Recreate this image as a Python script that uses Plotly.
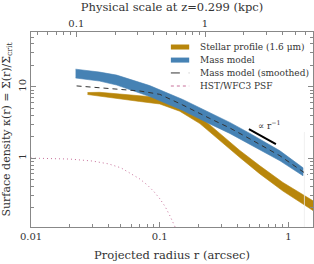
import math
import plotly.graph_objects as go

# ---------------- data ----------------
# Mass model band (r in arcsec, upper/lower kappa)
mass_r = [0.0222, 0.0341, 0.0463, 0.0836, 0.151, 0.245, 0.350, 0.502, 0.859, 1.297]
mass_hi = [17.7, 16.1, 14.6, 10.4, 6.64, 4.30, 3.17, 2.22, 1.265, 0.732]
mass_lo = [13.3, 12.05, 10.6, 7.31, 4.66, 3.02, 2.22, 1.56, 0.917, 0.565]

# Stellar profile band
star_r = [0.0275, 0.0341, 0.0488, 0.0699, 0.100, 0.143, 0.205, 0.293, 0.419, 0.600, 0.906, 1.551]
star_hi = [8.32, 8.38, 7.93, 7.55, 7.08, 5.60, 3.85, 2.22, 1.28, 0.78, 0.455, 0.252]
star_lo = [7.80, 7.27, 6.75, 6.23, 5.75, 4.55, 3.05, 1.78, 1.02, 0.60, 0.345, 0.184]

# Smoothed mass model
smooth_r = [0.0226, 0.0341, 0.0488, 0.0699, 0.100, 0.151, 0.245, 0.350, 0.502, 0.859, 1.297, 1.418]
smooth_k = [10.3, 9.78, 9.31, 8.75, 7.85, 5.56, 3.60, 2.65, 1.86, 1.077, 0.643, 0.584]

# HST/WFC3 PSF
psf_r = [0.010, 0.015, 0.020, 0.030, 0.040, 0.050, 0.060, 0.070, 0.080, 0.090, 0.100, 0.110, 0.120, 0.130, 0.136]
psf_k = [1.00, 0.99, 0.97, 0.91, 0.83, 0.73, 0.61, 0.51, 0.42, 0.34, 0.27, 0.21, 0.155, 0.113, 0.095]

# r^-1 guide
guide_r = [0.493, 0.799]
guide_k = [2.545, 1.570]

# faint vertical marker
mark_r = [1.33, 1.33]
mark_k = [2.32, 0.05]

kpc_per_arcsec = 4.446

x_ticks = [0.01, 0.1, 1]
x_ticktext = ["0.01", "0.1", "1"]
x_minor = [0.02, 0.03, 0.04, 0.05, 0.06, 0.07, 0.08, 0.09, 0.2, 0.3, 0.4, 0.5, 0.6, 0.7, 0.8, 0.9]
y_ticks = [1, 10]
y_ticktext = ["1", "10"]
y_minor = [0.2, 0.3, 0.4, 0.5, 0.6, 0.7, 0.8, 0.9, 2, 3, 4, 5, 6, 7, 8, 9, 20, 30, 40, 50]
top_ticks = [0.1, 1]
top_ticktext = ["0.1", "1"]
top_minor = [0.05, 0.06, 0.07, 0.08, 0.09, 0.2, 0.3, 0.4, 0.5, 0.6, 0.7, 0.8, 0.9, 2, 3, 4, 5, 6]

x_range = [0.01, 1.551]
y_range = [0.108, 58.8]

legend_labels = ["Stellar profile (1.6 μm)", "Mass model", "Mass model (smoothed)", "HST/WFC3 PSF"]

# ---------------- styles ----------------
GOLD = "#B8860B"
BLUE = "#4682B4"
PINK = "#C8709A"
DARK = "#333333"
AX = "#888888"
FONT = "DejaVu Serif"

fig = go.Figure()

fig.add_trace(go.Scatter(
    x=star_r + star_r[::-1], y=star_hi + star_lo[::-1],
    fill="toself", fillcolor=GOLD, mode="lines",
    line=dict(color=GOLD, width=0.6), showlegend=False, hoverinfo="skip"))
fig.add_trace(go.Scatter(
    x=mass_r + mass_r[::-1], y=mass_hi + mass_lo[::-1],
    fill="toself", fillcolor=BLUE, mode="lines",
    line=dict(color=BLUE, width=0.6), showlegend=False, hoverinfo="skip"))
fig.add_trace(go.Scatter(
    x=smooth_r, y=smooth_k, mode="lines",
    line=dict(color=DARK, width=1, dash="5px,4px"), showlegend=False))
fig.add_trace(go.Scatter(
    x=psf_r, y=psf_k, mode="lines",
    line=dict(color=PINK, width=1, dash="1px,3px"), showlegend=False))
fig.add_trace(go.Scatter(
    x=mark_r, y=mark_k, mode="lines",
    line=dict(color="#ececec", width=0.8), showlegend=False))
fig.add_trace(go.Scatter(
    x=guide_r, y=guide_k, mode="lines",
    line=dict(color="black", width=2), showlegend=False))

# invisible trace for top axis
fig.add_trace(go.Scatter(x=[x_range[0] * kpc_per_arcsec], y=[1], xaxis="x2", mode="markers",
                         marker=dict(opacity=0), showlegend=False, hoverinfo="skip"))

# r^-1 label (paper coordinates)
fig.add_annotation(x=0.893, y=0.525, xref="paper", yref="paper",
                   text="∝ r<sup>−1</sup>", showarrow=False,
                   font=dict(family=FONT, size=9, color=DARK))

# manual legend
leg_styles = [
    dict(color=GOLD, width=5),
    dict(color=BLUE, width=5),
    dict(color=DARK, width=1, dash="dash"),
    dict(color=PINK, width=1, dash="dot"),
]
leg_y = [0.923, 0.856, 0.790, 0.723]
for lab, st, yy in zip(legend_labels, leg_styles, leg_y):
    fig.add_shape(type="line", xref="paper", yref="paper", x0=0.496, x1=0.561, y0=yy, y1=yy,
                  line=st)
    fig.add_annotation(x=0.592, y=yy, xref="paper", yref="paper", xanchor="left", yanchor="middle",
                       text=lab, showarrow=False, font=dict(family=FONT, size=9, color=DARK))

axis_common = dict(
    showline=True, linecolor=AX, linewidth=1, ticks="inside", ticklen=5,
    tickcolor=AX, tickwidth=1, showgrid=False, zeroline=False,
    tickfont=dict(family=FONT, size=10, color=DARK),
)

fig.update_layout(
    width=314, height=264,
    margin=dict(l=31, r=1, t=32, b=37),
    paper_bgcolor="white", plot_bgcolor="white",
    font=dict(family=FONT, color=DARK),
    showlegend=False,
    xaxis=dict(
        type="log", range=[math.log10(x_range[0]), math.log10(x_range[1])],
        tickmode="array", tickvals=x_ticks, ticktext=x_ticktext, mirror=True,
        minor=dict(tickmode="array", tickvals=x_minor, ticks="inside", ticklen=3, tickcolor=AX),
        title=dict(text="Projected radius r (arcsec)", font=dict(family=FONT, size=11.5, color=DARK), standoff=9),
        **axis_common),
    xaxis2=dict(
        type="log", overlaying="x", side="top",
        range=[math.log10(x_range[0] * kpc_per_arcsec), math.log10(x_range[1] * kpc_per_arcsec)],
        tickmode="array", tickvals=top_ticks, ticktext=top_ticktext,
        minor=dict(tickmode="array", tickvals=top_minor, ticks="inside", ticklen=3, tickcolor=AX),
        title=dict(text="Physical scale at z=0.299 (kpc)", font=dict(family=FONT, size=11.5, color=DARK), standoff=3),
        **axis_common),
    yaxis=dict(
        type="log", range=[math.log10(y_range[0]), math.log10(y_range[1])],
        tickmode="array", tickvals=y_ticks, ticktext=y_ticktext, tickangle=-90, mirror="ticks",
        minor=dict(tickmode="array", tickvals=y_minor, ticks="inside", ticklen=3, tickcolor=AX),
        title=dict(text="Surface density κ(r) = Σ(r)/Σ<sub>crit</sub>", font=dict(family=FONT, size=11, color=DARK), standoff=5),
        **axis_common),
)

fig.write_html("out.html")
